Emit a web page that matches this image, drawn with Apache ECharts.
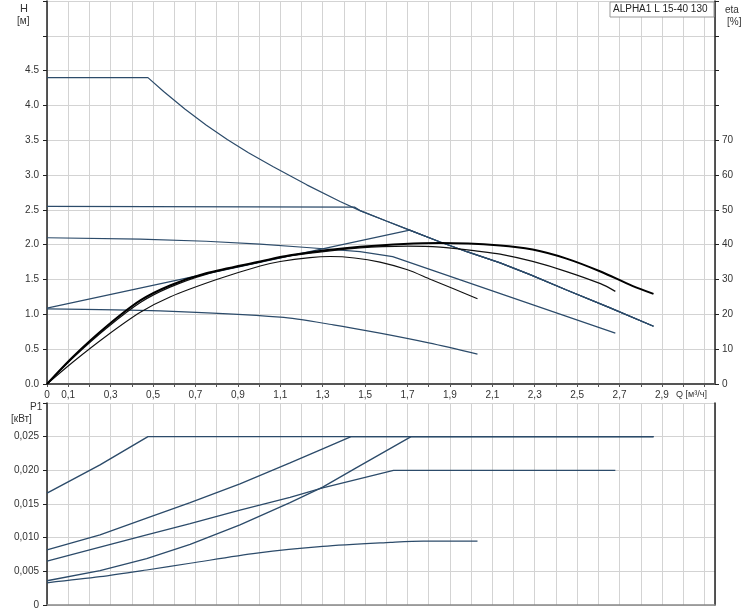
<!DOCTYPE html>
<html><head><meta charset="utf-8">
<script src="https://cdn.jsdelivr.net/npm/echarts@6/dist/echarts.min.js"></script>
<style>html,body{margin:0;padding:0;background:#fff;}#c{width:745px;height:610px;}</style>
</head><body><div id="c"></div>
<script>
// ---- Data (Q in m3/h) ----
const hMax = [[0,4.40],[0.476,4.40],[0.55,4.20],[0.65,3.95],[0.75,3.72],[0.85,3.51],[0.95,3.32],[1.067,3.12],[1.225,2.86],[1.382,2.62],[1.476,2.49],[1.60,2.34],[1.71,2.21],[1.854,2.04],[1.98,1.90],[2.137,1.74],[2.278,1.57],[2.45,1.35],[2.65,1.10],[2.86,0.83]];
const hConst = [[0,2.55],[1.45,2.54],[1.476,2.49],[1.60,2.34],[1.71,2.21],[1.854,2.04],[1.98,1.90],[2.137,1.74],[2.278,1.57],[2.45,1.35],[2.65,1.10],[2.86,0.83]];
const hMid = [[0,2.10],[0.44,2.08],[0.75,2.05],[1.005,2.01],[1.225,1.96],[1.476,1.90],[1.63,1.83],[2.68,0.73]];
const hProp = [[0,1.09],[1.71,2.21],[1.854,2.04],[1.98,1.90],[2.137,1.74],[2.278,1.57],[2.45,1.35],[2.65,1.10],[2.86,0.83]];
const hLow = [[0,1.08],[0.533,1.05],[1.10,0.96],[1.35,0.85],[1.57,0.73],[1.80,0.59],[2.03,0.43]];
const etaMax = [[0,0],[0.124,7.9],[0.28,16.5],[0.44,24.0],[0.58,28.3],[0.75,31.8],[1.005,35.2],[1.146,37.0],[1.476,39.4],[1.854,40.5],[2.137,39.8],[2.29,38.6],[2.45,36.0],[2.61,32.3],[2.76,28.2],[2.86,25.9]];
const etaMid = [[0,0],[0.124,7.6],[0.28,16.0],[0.44,23.4],[0.58,27.8],[0.75,31.5],[1.005,35.0],[1.146,36.8],[1.476,39.1],[1.70,39.6],[1.854,39.3],[2.04,38.1],[2.137,37.3],[2.29,35.2],[2.45,32.3],[2.61,28.8],[2.68,26.6]];
const etaLow = [[0,0],[0.124,6.4],[0.28,13.8],[0.44,20.6],[0.58,25.0],[0.80,30.0],[1.005,33.9],[1.10,35.2],[1.24,36.3],[1.335,36.6],[1.45,36.2],[1.57,35.0],[1.70,32.8],[1.81,30.0],[1.92,27.3],[2.03,24.5]];
const p1Max = [[0,0.0166],[0.25,0.0208],[0.476,0.0250],[2.86,0.0250]];
const p1Const = [[0,0.0082],[0.25,0.0104],[0.47,0.0129],[0.675,0.0152],[0.91,0.0180],[1.146,0.0211],[1.30,0.0232],[1.434,0.0250],[2.86,0.0250]];
const p1Mid = [[0,0.0065],[0.25,0.0086],[0.47,0.0104],[0.675,0.0121],[0.91,0.0141],[1.146,0.0160],[1.30,0.0174],[1.634,0.0200],[2.68,0.0200]];
const p1Prop = [[0,0.0036],[0.25,0.0051],[0.47,0.0069],[0.675,0.0090],[0.91,0.0119],[1.146,0.0152],[1.30,0.0175],[1.46,0.0204],[1.717,0.0250],[2.86,0.0250]];
const p1Low = [[0,0.0033],[0.25,0.0042],[0.47,0.0052],[0.675,0.0062],[0.99,0.0077],[1.30,0.0087],[1.62,0.0093],[1.775,0.0095],[2.03,0.0095]];
const title = 'ALPHA1 L 15-40 130';

const GRID = '#d3d3d3', AX = '#333', BLUE = '#2c4b6a', FONT = 'Liberation Sans, Arial, sans-serif';
function xFmt(v){const n=Math.round(v*10); if(n===0) return '0'; if(n%2===1 && n<=29) return (n/10).toFixed(1).replace('.',','); return '';}
function xAxis(g, labels){return {type:'value', gridIndex:g, min:0, max:3.15, interval:0.1,
  axisLine:{show:true, onZero:false, lineStyle:{color: g===0?'#555':'#888', width: g===0?2:1.5}},
  axisTick:{show:labels, length:3, lineStyle:{color:'#555'}},
  axisLabel:{show:labels, formatter:xFmt, fontSize:10, color:AX, margin:6, fontFamily:FONT, showMaxLabel:false},
  splitLine:{show:true, lineStyle:{color:GRID, width:1}}};}
const lineS = (data, xi, yi, color, w, smooth) => ({type:'line', data, xAxisIndex:xi, yAxisIndex:yi, showSymbol:false, symbol:'none', smooth: smooth?0.3:false, lineStyle:{color, width:w}, z: 3, silent:true, animation:false});

const chart = echarts.init(document.getElementById('c'), null, {renderer:'canvas'});
chart.setOption({
  animation:false,
  backgroundColor:'#fff',
  grid:[{left:47, right:30, top:1, height:383}, {left:47, right:30, top:403, height:202}],
  xAxis:[xAxis(0,true), xAxis(1,false)],
  yAxis:[
    {type:'value', gridIndex:0, min:0, max:5.5, interval:0.5, axisLine:{show:true, lineStyle:{color:'#222', width:1.5}},
     axisTick:{show:true, length:4, lineStyle:{color:'#222'}},
     axisLabel:{formatter:v=> v<=4.51 ? v.toFixed(1) : '', fontSize:10, color:AX, margin:8, fontFamily:FONT},
     splitLine:{show:true, lineStyle:{color:GRID}}},
    {type:'value', gridIndex:0, position:'right', min:0, max:110, interval:10, axisLine:{show:true, lineStyle:{color:'#222', width:1.5}},
     axisTick:{show:true, length:4, inside:false, lineStyle:{color:'#222'}},
     axisLabel:{formatter:v=> v<=70 ? String(v) : '', fontSize:10, color:AX, margin:7, fontFamily:FONT},
     splitLine:{show:false}},
    {type:'value', gridIndex:1, min:0, max:0.03, interval:0.005, axisLine:{show:true, lineStyle:{color:'#222', width:1.5}},
     axisTick:{show:true, length:4, lineStyle:{color:'#222'}},
     axisLabel:{formatter:v=> v===0 ? '0' : (v<0.0251 ? v.toFixed(3).replace('.',',') : ''), fontSize:10, color:AX, margin:8, fontFamily:FONT},
     splitLine:{show:true, lineStyle:{color:GRID}}},
    {type:'value', gridIndex:1, position:'right', min:0, max:0.03, interval:0.005, axisLine:{show:true, lineStyle:{color:'#222', width:1.5}},
     axisTick:{show:false}, axisLabel:{show:false}, splitLine:{show:false}}
  ],
  series:[
    lineS(hMax,0,0,BLUE,1.2,false),
    lineS(hConst,0,0,BLUE,1.2,false),
    lineS(hMid,0,0,BLUE,1.2,false),
    lineS(hProp,0,0,BLUE,1.2,false),
    lineS(hLow,0,0,BLUE,1.2,true),
    lineS(etaMid,0,1,'#111',1.3,true),
    lineS(etaLow,0,1,'#111',1.1,true),
    lineS(etaMax,0,1,'#000',2,true),
    lineS(p1Max,1,2,BLUE,1.4,false),
    lineS(p1Const,1,2,BLUE,1.3,false),
    lineS(p1Mid,1,2,BLUE,1.3,false),
    lineS(p1Prop,1,2,BLUE,1.3,false),
    lineS(p1Low,1,2,BLUE,1.2,true)
  ],
  graphic:[
    {type:'text', left:20, top:3, style:{text:'H', font:'11px '+FONT, fill:AX}},
    {type:'text', left:17, top:16, style:{text:'[м]', font:'10px '+FONT, fill:AX}},
    {type:'text', left:725, top:5, style:{text:'eta', font:'10px '+FONT, fill:AX}},
    {type:'text', left:727, top:17, style:{text:'[%]', font:'10px '+FONT, fill:AX}},
    {type:'text', left:30, top:402, style:{text:'P1', font:'10px '+FONT, fill:AX}},
    {type:'text', left:11, top:414, style:{text:'[кВт]', font:'10px '+FONT, fill:AX}},
    {type:'text', left:676, top:390, style:{text:'Q [м³/ч]', font:'9px '+FONT, fill:AX}},
    {type:'rect', shape:{x:610, y:2, width:104, height:15}, style:{fill:'#fff', stroke:'#999', lineWidth:1}, z:10},
    {type:'text', left:613, top:4, z:11, style:{text:title, font:'10px '+FONT, fill:'#222'}}
  ]
});
</script></body></html>
